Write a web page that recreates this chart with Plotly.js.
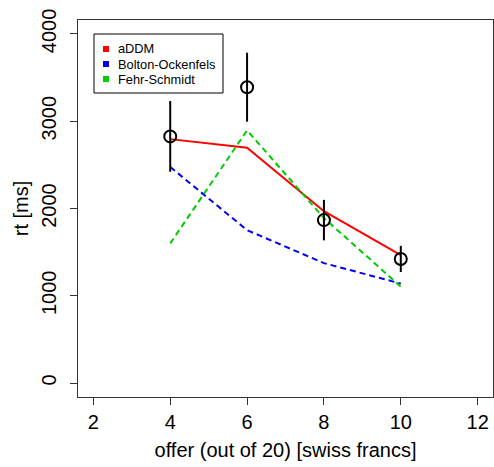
<!DOCTYPE html>
<html>
<head>
<meta charset="utf-8">
<script src="https://cdn.plot.ly/plotly-3.0.1.min.js"></script>
<style>html,body{margin:0;padding:0;background:#fff;}#chart{width:494px;height:467px;}</style>
</head>
<body>
<div id="chart"></div>
<script>
// Observed data (mean RT and error bar half-widths)
var offers = [4, 6, 8, 10];
var obsRT = [2826, 3390, 1867, 1422];
var obsErr = [405, 395, 232, 150];
// Model predictions
var addmRT = [2795, 2697, 1969, 1466];
var boltonRT = [2476, 1752, 1374, 1140];
var fehrRT = [1600, 2895, 1890, 1105];
var seriesNames = ["aDDM", "Bolton-Ockenfels", "Fehr-Schmidt"];
var seriesColors = ["#ff0000", "#0000ff", "#00cc00"];
var xTicks = [2, 4, 6, 8, 10, 12];
var yTicks = [0, 1000, 2000, 3000, 4000];

var FONT = "Liberation Sans, Arial, Helvetica, sans-serif";

var traces = [
  {x: offers, y: addmRT, mode: "lines", name: seriesNames[0], line: {color: seriesColors[0], width: 2}, hoverinfo: "skip"},
  {x: offers, y: boltonRT, mode: "lines", name: seriesNames[1], line: {color: seriesColors[1], width: 2, dash: "6px,4px"}, hoverinfo: "skip"},
  {x: offers, y: fehrRT, mode: "lines", name: seriesNames[2], line: {color: seriesColors[2], width: 2, dash: "6px,4px"}, hoverinfo: "skip"},
  {x: offers, y: obsRT, mode: "markers", name: "observed",
   marker: {symbol: "circle-open", size: 12, color: "#000", line: {width: 2, color: "#000"}},
   error_y: {type: "data", array: obsErr, visible: true, color: "#000", thickness: 2, width: 0}}
];

// Legend drawn R-style: box, small filled squares, labels (paper coordinates)
var plotL = 78, plotT = 20, plotW = 415, plotH = 377;
function px(x) { return (x - plotL) / plotW; }
function py(y) { return 1 - (y - plotT) / plotH; }
var shapes = [{type: "rect", xref: "paper", yref: "paper",
  x0: px(94), x1: px(223), y0: py(93), y1: py(34),
  line: {color: "#000", width: 1}, fillcolor: "#fff", layer: "above"}];
var annotations = [];
var rowY = [49, 64, 79];
for (var i = 0; i < seriesNames.length; i++) {
  shapes.push({type: "rect", xref: "paper", yref: "paper",
    x0: px(103), x1: px(109), y0: py(rowY[i] + 3), y1: py(rowY[i] - 3),
    line: {width: 0}, fillcolor: seriesColors[i], layer: "above"});
  annotations.push({xref: "paper", yref: "paper", x: px(116), y: py(rowY[i]),
    xanchor: "left", yanchor: "middle", showarrow: false, text: seriesNames[i],
    font: {size: 12.8, family: FONT, color: "#000"}});
}

var layout = {
  width: 494, height: 467,
  margin: {l: 78, r: 1, t: 20, b: 70},
  paper_bgcolor: "#fff", plot_bgcolor: "#fff",
  font: {family: FONT, color: "#000"},
  showlegend: false,
  shapes: shapes,
  annotations: annotations,
  xaxis: {
    range: [1.6, 12.4], tickvals: xTicks, ticktext: xTicks.map(String),
    showgrid: false, zeroline: false, showline: true, mirror: true, linecolor: "#333", linewidth: 1,
    ticks: "outside", ticklen: 7, tickcolor: "#333", tickwidth: 1,
    tickfont: {size: 20, family: FONT, color: "#000"},
    title: {text: "offer (out of 20) [swiss francs]", font: {size: 20, family: FONT, color: "#000"}, standoff: 10}
  },
  yaxis: {
    range: [-160, 4160], tickvals: yTicks, ticktext: yTicks.map(String),
    showgrid: false, zeroline: false, showline: true, mirror: true, linecolor: "#333", linewidth: 1,
    ticks: "outside", ticklen: 7, tickcolor: "#333", tickwidth: 1, tickangle: -90,
    ticklabelstandoff: 6,
    tickfont: {size: 20, family: FONT, color: "#000"},
    title: {text: "rt [ms]", font: {size: 20, family: FONT, color: "#000"}, standoff: 4}
  }
};

Plotly.newPlot("chart", traces, layout, {displayModeBar: false, staticPlot: true});
</script>
</body>
</html>
